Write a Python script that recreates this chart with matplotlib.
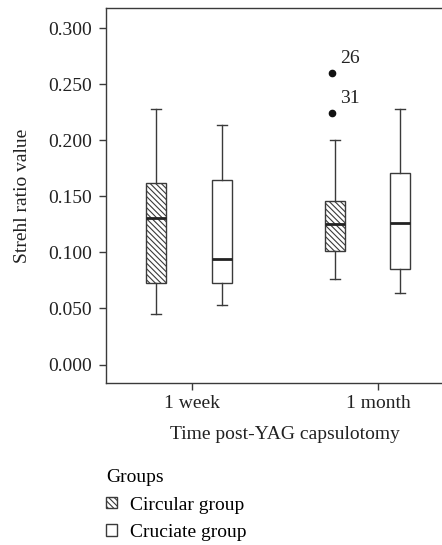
import matplotlib
matplotlib.use("Agg")
import matplotlib.pyplot as plt
from matplotlib.patches import Patch

# box stats
times = ["1 week", "1 month"]
groups = ["Circular group", "Cruciate group"]
whislo = [0.045, 0.053, 0.076, 0.064]
q1 = [0.073, 0.073, 0.101, 0.085]
med = [0.131, 0.094, 0.125, 0.126]
q3 = [0.162, 0.165, 0.146, 0.171]
whishi = [0.228, 0.214, 0.200, 0.228]
outliers = [[], [], [0.260, 0.224], []]
outlier_ids = [[], [], ["26", "31"], []]

plt.rcParams['font.family'] = ['Liberation Serif', 'DejaVu Serif']
plt.rcParams['hatch.linewidth'] = 0.8

fs = 14
line_col = "#3a3a3a"
txt_col = "#222222"
fig = plt.figure(figsize=(4.42, 5.45), dpi=100)
ax = fig.add_axes([0.2398, 0.2972, 0.81, 0.688])

# boxes sit a bit off-centre from the ticks, like in the original
positions = [-0.192, 0.163, 0.767, 1.12]

stats = []
for k in range(4):
    stats.append(dict(whislo=whislo[k], q1=q1[k], med=med[k], q3=q3[k],
                      whishi=whishi[k], fliers=[]))

bp = ax.bxp(stats, positions=positions, widths=0.1075, patch_artist=True,
            showfliers=False,
            boxprops=dict(edgecolor=line_col, linewidth=1.0, facecolor="white"),
            whiskerprops=dict(color=line_col, linewidth=1.0),
            capprops=dict(color=line_col, linewidth=1.0),
            medianprops=dict(color=txt_col, linewidth=2.0))
for k, box in enumerate(bp["boxes"]):
    if k % 2 == 0:
        box.set_hatch("\\\\\\\\\\\\")

for k in range(4):
    for v, lab in zip(outliers[k], outlier_ids[k]):
        ax.plot(positions[k] - 0.012, v, "o", color="#111111", markersize=4.5)
        ax.annotate(lab, (positions[k], v), xytext=(4, 7.5), textcoords="offset points",
                    fontsize=fs, color=txt_col)

ax.set_xlim(-0.462, 1.462)
ax.set_ylim(-0.0165, 0.318)
ax.set_xticks([0, 1])
ax.set_xticklabels(times)
ax.set_yticks([0.0, 0.05, 0.1, 0.15, 0.2, 0.25, 0.3])
ax.set_yticklabels([f"{t:.3f}" for t in ax.get_yticks()])
ax.tick_params(direction="out", length=5, width=1, colors=line_col,
               labelcolor=txt_col, labelsize=fs)
ax.tick_params(axis="y", pad=5)
for s in ax.spines.values():
    s.set_color(line_col)
    s.set_linewidth(1.0)

ax.set_ylabel("Strehl ratio value", fontsize=fs, color=txt_col, labelpad=12.5)
ax.set_xlabel("Time post-YAG capsulotomy", fontsize=fs, color=txt_col, labelpad=10)

handles = [Patch(facecolor="white", edgecolor=line_col, hatch="\\\\\\\\\\\\"),
           Patch(facecolor="white", edgecolor=line_col)]
leg = fig.legend(handles, groups, title="Groups", loc="upper left",
                 bbox_to_anchor=(0.222, 0.153), frameon=False, fontsize=fs,
                 title_fontsize=fs, handlelength=0.55, handleheight=0.55,
                 handletextpad=0.7, labelspacing=0.52, alignment="left",
                 borderaxespad=0)

fig.savefig("out.png", dpi=100)
